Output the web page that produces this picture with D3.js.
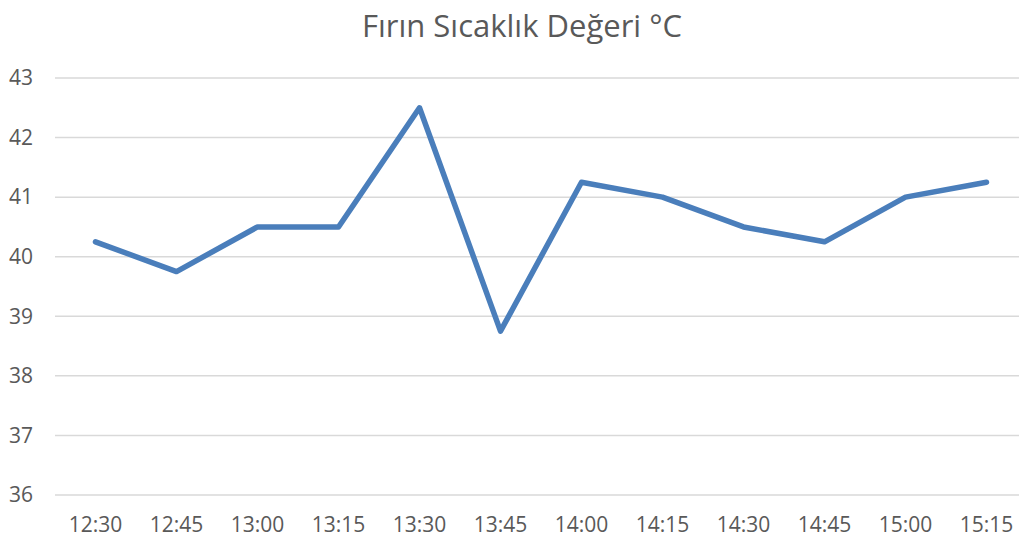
<!DOCTYPE html>
<html>
<head>
<meta charset="utf-8">
<script src="https://cdn.jsdelivr.net/npm/d3@7"></script>
<style>
  body { margin: 0; background: #fff; }
  svg text { font-family: "Open Sans", "Noto Sans", sans-serif; fill: #595959; }
</style>
</head>
<body>
<svg id="chart" width="1019" height="540"></svg>
<script>
const title = 'Fırın Sıcaklık Değeri °C';
const times = ['12:30', '12:45', '13:00', '13:15', '13:30', '13:45', '14:00', '14:15', '14:30', '14:45', '15:00', '15:15'];
const temps = [40.25, 39.75, 40.5, 40.5, 42.5, 38.75, 41.25, 41, 40.5, 40.25, 41, 41.25];
const yTicks = [36, 37, 38, 39, 40, 41, 42, 43];

const svg = d3.select('#chart');
const margin = {top: 78, left: 55, bottom: 45};
const plotW = 81 * times.length;
const plotH = 540 - margin.top - margin.bottom;

svg.append('text')
  .attr('x', 522).attr('y', 37)
  .attr('text-anchor', 'middle')
  .style('font-size', '31px')
  .text(title);

let x = d3.scaleBand().domain(times).range([0, plotW]);
let y = d3.scaleLinear().domain([36, 43]).range([plotH, 0]);

let g = svg.append('g').attr('transform', 'translate(' + margin.left + ',' + margin.top + ')');

/// gridlines
g.selectAll('.grid').data(yTicks).enter().append('line')
  .attr('x1', 0).attr('x2', plotW)
  .attr('y1', d => y(d)).attr('y2', d => y(d))
  .style('stroke', '#d9d9d9').style('stroke-width', 1.5);

/// y labels
g.selectAll('.ylab').data(yTicks).enter().append('text')
  .attr('x', -22).attr('y', d => y(d)).attr('dy', '0.35em')
  .attr('text-anchor', 'end')
  .style('font-size', '21px')
  .text(d => d);

/// x labels
g.selectAll('.xlab').data(times).enter().append('text')
  .attr('x', d => x(d) + x.bandwidth() / 2).attr('y', plotH + 37)
  .attr('text-anchor', 'middle')
  .style('font-size', '21px')
  .text(d => d);

let lineGen = d3.line()
  .x((d, i) => x(times[i]) + x.bandwidth() / 2)
  .y(d => y(d));

g.append('path').datum(temps)
  .attr('d', lineGen)
  .style('fill', 'none')
  .style('stroke', '#4a7ebb')
  .style('stroke-width', 5.5)
  .style('stroke-linejoin', 'round')
  .style('stroke-linecap', 'round');
</script>
</body>
</html>
